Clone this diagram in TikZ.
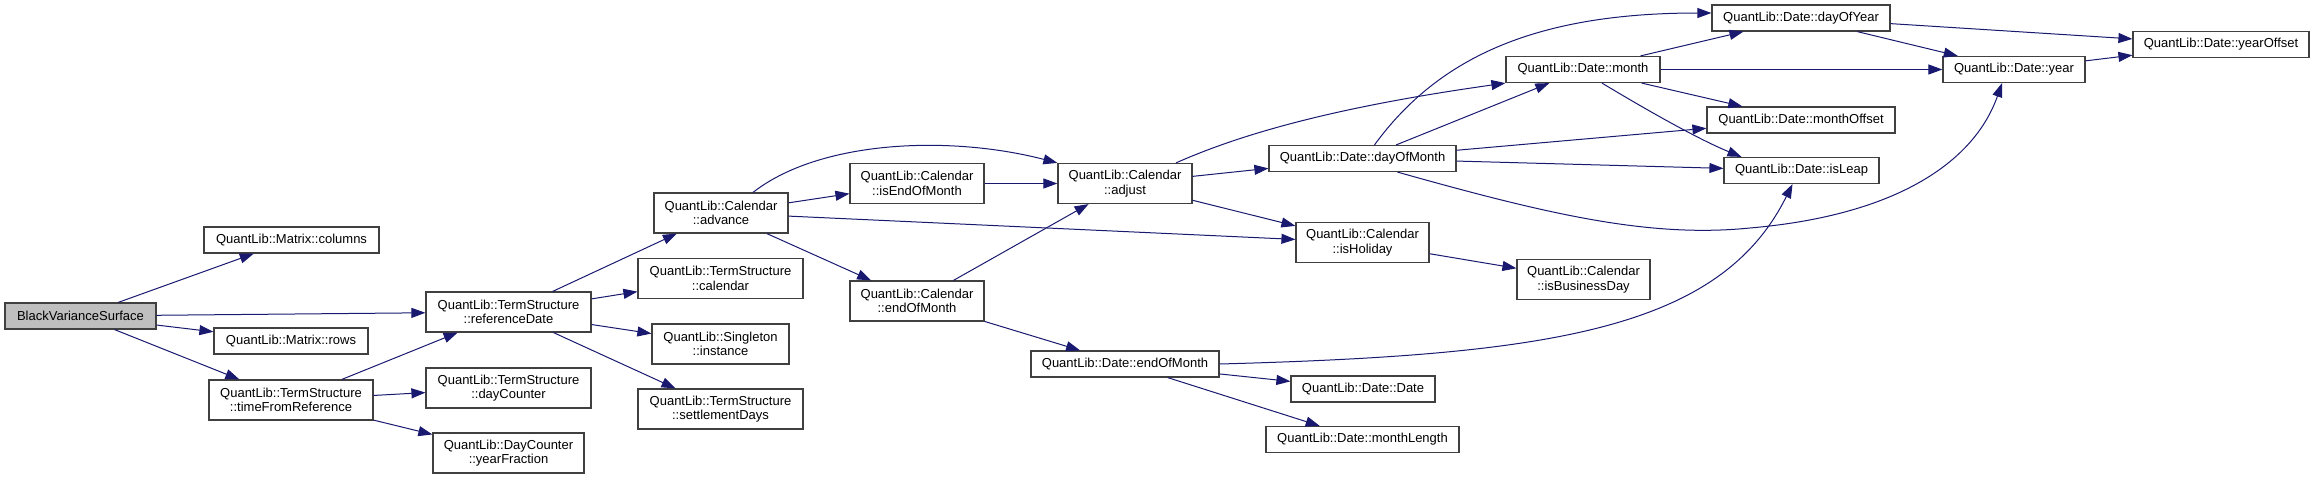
\documentclass[tikz,border=0pt]{standalone}
\usepackage{fontspec}
\setmainfont{Liberation Sans}
\usepackage{xcolor}
\usetikzlibrary{arrows.meta}
\definecolor{edgeblue}{HTML}{191970}
\definecolor{boxline}{HTML}{404040}
\definecolor{rootfill}{HTML}{BFBFBF}

\begin{document}
\begin{tikzpicture}[
        x=1pt, y=-1pt,
        font=\fontsize{13}{14.5}\selectfont,
        func/.style={draw=boxline, line width=1.2pt, fill=white, align=center, inner sep=2pt, minimum height=26},
        func2/.style={func, minimum height=40},
        root/.style={func, fill=rootfill},
        call/.style={-{Triangle[length=14pt, width=10pt]}, edgeblue, line width=1pt}
    ]
        \useasboundingbox (0,0) rectangle (2315,479);
        % callers on the left
        \node[root, minimum width=151] (bvs) at (80.5,316) {BlackVarianceSurface};
        \node[func, minimum width=175] (columns) at (291.5,240) {QuantLib::Matrix::columns};
        \node[func, minimum width=154] (rows) at (291,341) {QuantLib::Matrix::rows};
        \node[func2, minimum width=164] (tfr) at (291,400) {QuantLib::TermStructure\\::timeFromReference};
        \node[func2, minimum width=165] (refdate) at (508.5,312) {QuantLib::TermStructure\\::referenceDate};
        \node[func2, minimum width=165] (daycounter) at (508.5,388) {QuantLib::TermStructure\\::dayCounter};
        \node[func2, minimum width=151] (yearfrac) at (508.5,453) {QuantLib::DayCounter\\::yearFraction};
        \node[func2, minimum width=134] (advance) at (721,213) {QuantLib::Calendar\\::advance};
        \node[func2, minimum width=165] (tscal) at (720.5,278.5) {QuantLib::TermStructure\\::calendar};
        \node[func2, minimum width=137] (instance) at (720.5,344) {QuantLib::Singleton\\::instance};
        \node[func2, minimum width=165] (settle) at (720.5,409) {QuantLib::TermStructure\\::settlementDays};
        % calendar and date helpers
        \node[func2, minimum width=134] (iseom) at (917,183.5) {QuantLib::Calendar\\::isEndOfMonth};
        \node[func2, minimum width=134] (caleom) at (917,301) {QuantLib::Calendar\\::endOfMonth};
        \node[func2, minimum width=134] (adjust) at (1125,183.5) {QuantLib::Calendar\\::adjust};
        \node[func, minimum width=188] (dateeom) at (1125,364) {QuantLib::Date::endOfMonth};
        \node[func, minimum width=187] (dom) at (1362.5,158.5) {QuantLib::Date::dayOfMonth};
        \node[func2, minimum width=133] (holiday) at (1362.5,242.5) {QuantLib::Calendar\\::isHoliday};
        \node[func, minimum width=144] (date) at (1363,389) {QuantLib::Date::Date};
        \node[func, minimum width=193] (mlength) at (1362.5,439.5) {QuantLib::Date::monthLength};
        \node[func, minimum width=154] (month) at (1583,69.5) {QuantLib::Date::month};
        \node[func2, minimum width=133] (busday) at (1583.5,279.5) {QuantLib::Calendar\\::isBusinessDay};
        \node[func, minimum width=178] (doy) at (1801,18) {QuantLib::Date::dayOfYear};
        \node[func, minimum width=188] (moffset) at (1801,120) {QuantLib::Date::monthOffset};
        \node[func, minimum width=155] (isleap) at (1801.5,170.5) {QuantLib::Date::isLeap};
        \node[func, minimum width=142] (year) at (2014,69.5) {QuantLib::Date::year};
        \node[func, minimum width=176] (yoffset) at (2221,44.5) {QuantLib::Date::yearOffset};
        % calls
        \draw[call] (bvs) -- (columns);
        \draw[call] (bvs) -- (refdate);
        \draw[call] (bvs) -- (rows);
        \draw[call] (bvs) -- (tfr);
        \draw[call] (tfr) -- (refdate);
        \draw[call] (tfr) -- (daycounter);
        \draw[call] (tfr) -- (yearfrac);
        \draw[call] (refdate) -- (advance);
        \draw[call] (refdate) -- (tscal);
        \draw[call] (refdate) -- (instance);
        \draw[call] (refdate) -- (settle);
        \draw[call] ([xshift=32pt]advance.north) .. controls (820,140) and (950,135) .. (adjust.north west);
        \draw[call] (advance) -- (iseom);
        \draw[call] (advance) -- (holiday);
        \draw[call] (advance) -- (caleom);
        \draw[call] (iseom) -- (adjust);
        \draw[call] (caleom) -- (adjust);
        \draw[call] (caleom) -- (dateeom);
        \draw[call] (adjust) -- (dom);
        \draw[call] ([xshift=51pt]adjust.north) .. controls (1250,130) and (1350,105) .. (month.south west);
        \draw[call] (adjust) -- (holiday);
        \draw[call] (holiday) -- (busday);
        \draw[call] ([xshift=12pt]dom.north) .. controls (1440,55) and (1540,13) .. ([yshift=5pt]doy.west);
        \draw[call] (dom) -- (month);
        \draw[call] (dom) -- (moffset);
        \draw[call] (dom) -- (isleap);
        \draw[call] ([xshift=35pt]dom.south) .. controls (1550,215) and (1650,238) .. (1750,228)
            .. controls (1900,215) and (1975,160) .. ([xshift=-12pt]year.south);
        \draw[call] (month) -- (doy);
        \draw[call] (month) -- (year);
        \draw[call] (month) -- (moffset);
        \draw[call] ([xshift=19pt]month.south) .. controls (1650,112) and (1700,140) .. ([xshift=-60pt]isleap.north);
        \draw[call] (doy) -- (yoffset);
        \draw[call] (doy) -- (year);
        \draw[call] (year) -- (yoffset);
        \draw[call] (dateeom.east) .. controls (1550,355) and (1720,330) .. ([xshift=-9pt]isleap.south);
        \draw[call] (dateeom) -- (date);
        \draw[call] (dateeom) -- (mlength);
    \end{tikzpicture}
\end{document}
